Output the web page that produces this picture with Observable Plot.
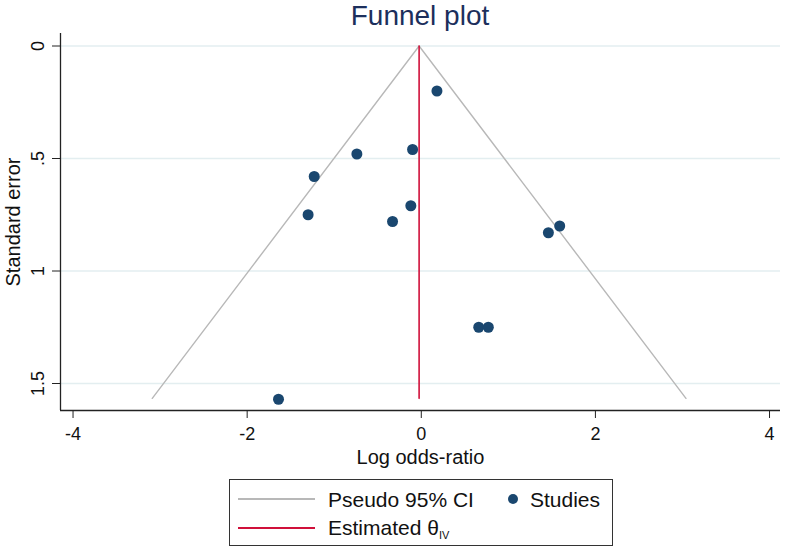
<!DOCTYPE html>
<html>
<head>
<meta charset="utf-8">
<script src="https://cdn.jsdelivr.net/npm/d3@7"></script>
<script src="https://cdn.jsdelivr.net/npm/@observablehq/plot@0.6"></script>
<style>
  html, body { margin: 0; padding: 0; background: #fff; }
  body { width: 786px; height: 549px; overflow: hidden; font-family: 'Liberation Sans', Arial, Helvetica, sans-serif; }
  #title { height: 33px; line-height: 31px; font-size: 28px; color: #1c2f5c; text-align: center; padding-left: 54px; box-sizing: border-box; width: 786px; }
  #chart svg { display: block; }
  #legendWrap { position: relative; width: 786px; height: 70px; margin-top: 9px; }
  #legend { position: absolute; left: 229px; top: 0; width: 382px; height: 65px; border: 1px solid #333; }
  .sw { position: absolute; left: 8px; width: 77px; height: 1.5px; }
  .lt { position: absolute; font-size: 21px; line-height: 21px; color: #111; white-space: nowrap; }
  .dot { position: absolute; width: 10px; height: 10px; border-radius: 50%; background: #1a476f; }
  sub { font-size: 11px; vertical-align: -4px; line-height: 0; }
</style>
</head>
<body>
<div id="title">Funnel plot</div>
<div id="chart"></div>
<div id="legendWrap">
  <div id="legend">
    <div class="sw" style="top:18px;background:#b8b8b8;"></div>
    <div class="lt" style="left:98px;top:9px;">Pseudo 95% CI</div>
    <div class="dot" style="left:278px;top:14px;"></div>
    <div class="lt" style="left:300px;top:9px;">Studies</div>
    <div class="sw" style="top:47px;background:#d0103a;"></div>
    <div class="lt" style="left:98px;top:37px;">Estimated θ<sub>IV</sub></div>
  </div>
</div>
<script>
// Study estimates (log odds-ratio) and standard errors
const studyLogOR = [0.18, -0.10, -0.74, -1.23, -1.30, -0.33, -0.12, 1.46, 1.59, 0.66, 0.77, -1.64];
const studySE    = [0.20, 0.46, 0.48, 0.58, 0.75, 0.78, 0.71, 0.83, 0.80, 1.25, 1.25, 1.57];

// Pseudo 95% CI funnel vertices
const ciLogOR = [-3.09, -0.025, 3.04];
const ciSE    = [1.566, 0, 1.566];

// Estimated theta (IV)
const theta = -0.025;
const thetaSE = [0, 1.566];

// Axes
const xDomain = [-4.144, 4.126];
const yDomain = [-0.0556, 1.62];
const xTicks = [-4, -2, 0, 2, 4];
const xTickLabels = ["-4", "-2", "0", "2", "4"];
const yTicks = [0, 0.5, 1, 1.5];
const yTickLabels = ["0", ".5", "1", "1.5"];
const xLabel = "Log odds-ratio";
const yLabel = "Standard error";

const studies = studyLogOR.map((v, i) => ({lor: v, se: studySE[i]}));
const ci = ciLogOR.map((v, i) => ({lor: v, se: ciSE[i]}));
const est = thetaSE.map(s => ({lor: theta, se: s}));

const chart = Plot.plot({
  width: 786,
  height: 437,
  marginLeft: 60,
  marginRight: 6,
  marginTop: 0,
  marginBottom: 60,
  style: {fontFamily: "'Liberation Sans', Arial, Helvetica, sans-serif", background: "#fff", color: "#222", overflow: "visible"},
  x: {domain: xDomain},
  y: {domain: yDomain, reverse: true},
  marks: [
    Plot.gridY(yTicks, {stroke: "#e3eef0", strokeOpacity: 1, strokeWidth: 1.3}),
    Plot.ruleX([xDomain[0]], {stroke: "#222", strokeWidth: 1.3}),
    Plot.ruleY([yDomain[1]], {stroke: "#222", strokeWidth: 1.3}),
    Plot.axisX(xTicks, {tickSize: 8, tickPadding: 9, fontSize: 18, label: null, stroke: "#222", fill: "#111",
      tickFormat: d => xTickLabels[xTicks.indexOf(d)]}),
    Plot.axisY(yTicks, {tickSize: 8, tickPadding: 9, tickRotate: -90, fontSize: 18, label: null, stroke: "#222", fill: "#111",
      tickFormat: d => yTickLabels[yTicks.indexOf(d)]}),
    Plot.text([yLabel], {frameAnchor: "left", rotate: -90, dx: -41, textAnchor: "middle", lineAnchor: "bottom", fontSize: 20, fill: "#111"}),
    Plot.text([xLabel], {frameAnchor: "bottom", dy: 53, textAnchor: "middle", lineAnchor: "bottom", fontSize: 20, fill: "#111"}),
    Plot.line(ci, {x: "lor", y: "se", stroke: "#b8b8b8", strokeWidth: 1.4}),
    Plot.line(est, {x: "lor", y: "se", stroke: "#d0103a", strokeWidth: 1.6}),
    Plot.dot(studies, {x: "lor", y: "se", r: 5.5, fill: "#1a476f", stroke: "none"})
  ]
});
document.getElementById("chart").appendChild(chart);
</script>
</body>
</html>
